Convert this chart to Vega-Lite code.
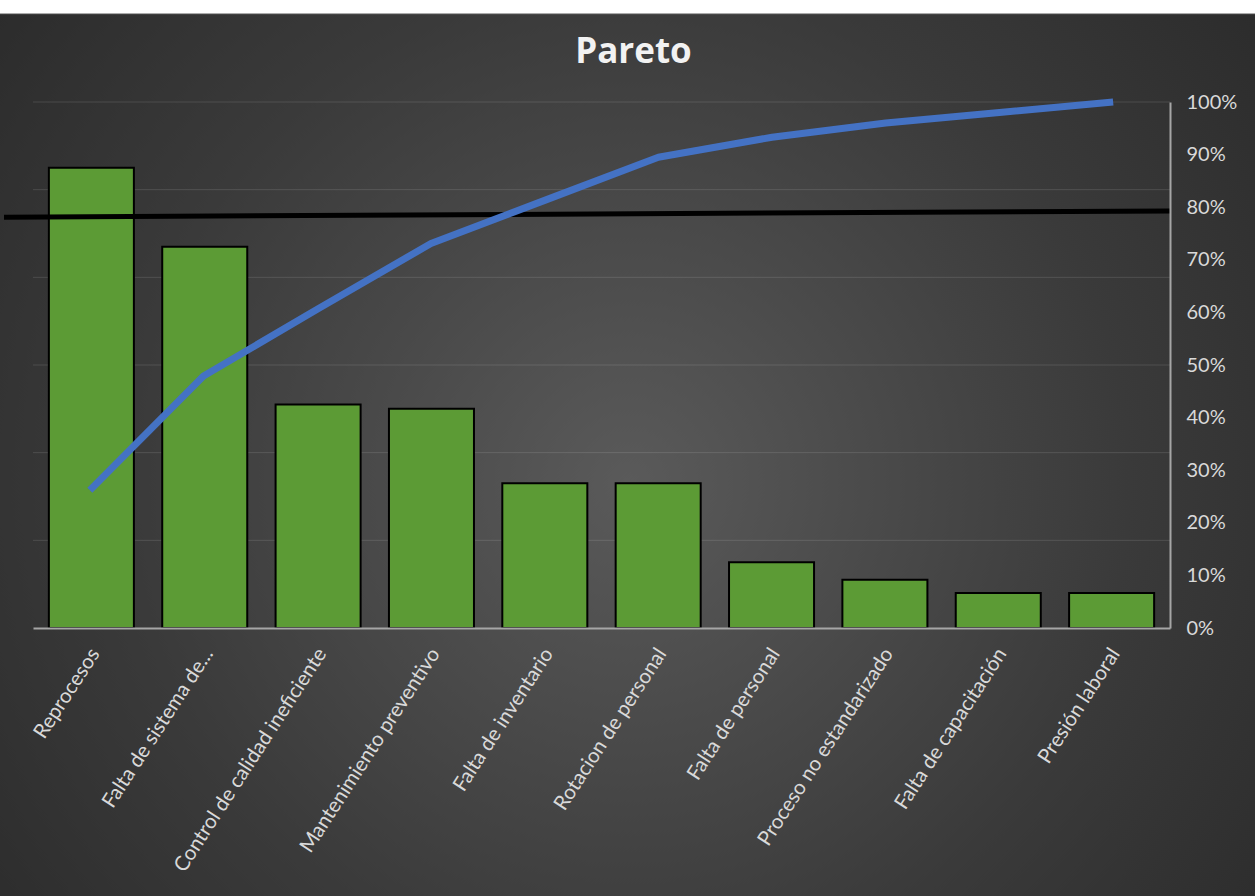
{
  "$schema": "https://vega.github.io/schema/vega-lite/v6.json",
  "width": 1137,
  "height": 526,
  "autosize": {"type": "none"},
  "padding": {"left": 33, "top": 102, "right": 85, "bottom": 268},
  "background": "#ffffff",
  "config": {
    "view": {"stroke": null},
    "font": "Lato"
  },
  "title": {
    "text": "Pareto",
    "font": "Open Sans",
    "fontSize": 35,
    "fontWeight": "bold",
    "color": "#f2f2f2",
    "anchor": "middle",
    "baseline": "alphabetic",
    "offset": 0,
    "dy": 85,
    "dx": 32,
    "zindex": 2
  },
  "data": {
    "values": [
      {"cause": "Reprocesos", "count": 105, "cumpct": 26.2},
      {"cause": "Falta de sistema de...", "count": 87, "cumpct": 47.9},
      {"cause": "Control de calidad ineficiente", "count": 51, "cumpct": 60.6},
      {"cause": "Mantenimiento preventivo", "count": 50, "cumpct": 73.1},
      {"cause": "Falta de inventario", "count": 33, "cumpct": 81.3},
      {"cause": "Rotacion de personal", "count": 33, "cumpct": 89.5},
      {"cause": "Falta de personal", "count": 15, "cumpct": 93.3},
      {"cause": "Proceso no estandarizado", "count": 11, "cumpct": 96.0},
      {"cause": "Falta de capacitación", "count": 8, "cumpct": 98.0},
      {"cause": "Presión laboral", "count": 8, "cumpct": 100}
    ]
  },
  "layer": [
    {
      "data": {"values": [{"bg": 1}]},
      "mark": {
        "type": "rect",
        "clip": false,
        "stroke": "#a6a6a6",
        "strokeWidth": 1,
        "color": {
          "gradient": "radial",
          "x1": 0.5, "y1": 0.52, "r1": 0,
          "x2": 0.5, "y2": 0.52, "r2": 0.72,
          "stops": [
            {"offset": 0, "color": "#5a5a5a"},
            {"offset": 0.55, "color": "#3a3a3a"},
            {"offset": 1, "color": "#262626"}
          ]
        }
      },
      "encoding": {
        "x": {"datum": -0.031, "type": "quantitative", "scale": {"domain": [0, 1], "nice": false, "zero": false}, "axis": null},
        "x2": {"datum": 1.08},
        "y": {"datum": 1.168, "type": "quantitative", "scale": {"domain": [0, 1], "nice": false, "zero": false}, "axis": null},
        "y2": {"datum": -0.52}
      }
    },
    {
      "data": {"values": [{"g": 20}, {"g": 40}, {"g": 60}, {"g": 80}, {"g": 100}, {"g": 120}]},
      "mark": {"type": "rule", "color": "#ffffff", "opacity": 0.12, "strokeWidth": 1},
      "encoding": {
        "y": {"field": "g", "type": "quantitative", "scale": {"domain": [0, 120], "nice": false}, "axis": null}
      }
    },
    {
      "mark": {"type": "bar", "color": "#5c9b35", "stroke": "#000000", "strokeWidth": 2},
      "encoding": {
        "x": {
          "field": "cause",
          "type": "nominal",
          "sort": null,
          "scale": {"paddingInner": 0.25, "paddingOuter": 0.14},
          "axis": {
            "title": null,
            "zindex": 1,
            "labelAngle": -57,
            "labelFontSize": 20.5,
            "labelFont": "Lato",
            "labelColor": "#d9d9d9",
            "labelLimit": 400,
            "labelPadding": 22,
            "labelOffset": 4,
            "ticks": false,
            "domainColor": "#a6a6a6",
            "domainWidth": 2,
            "grid": false
          }
        },
        "y": {"field": "count", "type": "quantitative", "scale": {"domain": [0, 120], "nice": false}, "axis": null}
      }
    },
    {
      "data": {"values": [{"t": 1}]},
      "mark": {"type": "rule", "color": "#000000", "strokeWidth": 5, "clip": false},
      "encoding": {
        "x": {"datum": -0.0255, "type": "quantitative", "scale": {"domain": [0, 1], "nice": false, "zero": false}, "axis": null},
        "x2": {"datum": 1.0},
        "y": {"datum": 78.1, "type": "quantitative", "scale": {"domain": [0, 100], "nice": false}, "axis": null},
        "y2": {"datum": 79.3}
      }
    },
    {
      "mark": {"type": "line", "color": "#4472c4", "strokeWidth": 7, "strokeCap": "butt", "strokeJoin": "round"},
      "encoding": {
        "x": {
          "field": "cause",
          "type": "nominal",
          "sort": null,
          "scale": {"paddingInner": 0.25, "paddingOuter": 0.14},
          "axis": null
        },
        "y": {
          "field": "cumpct",
          "type": "quantitative",
          "scale": {"domain": [0, 100], "nice": false},
          "axis": {
            "orient": "right",
            "title": null,
            "zindex": 1,
            "values": [0, 10, 20, 30, 40, 50, 60, 70, 80, 90, 100],
            "labelExpr": "datum.value + '%'",
            "labelFontSize": 20,
            "labelFont": "Lato",
            "labelColor": "#d9d9d9",
            "labelPadding": 16,
            "ticks": false,
            "domainColor": "#a6a6a6",
            "domainWidth": 2,
            "grid": false
          }
        }
      }
    }
  ],
  "resolve": {"scale": {"x": "independent", "y": "independent"}}
}
